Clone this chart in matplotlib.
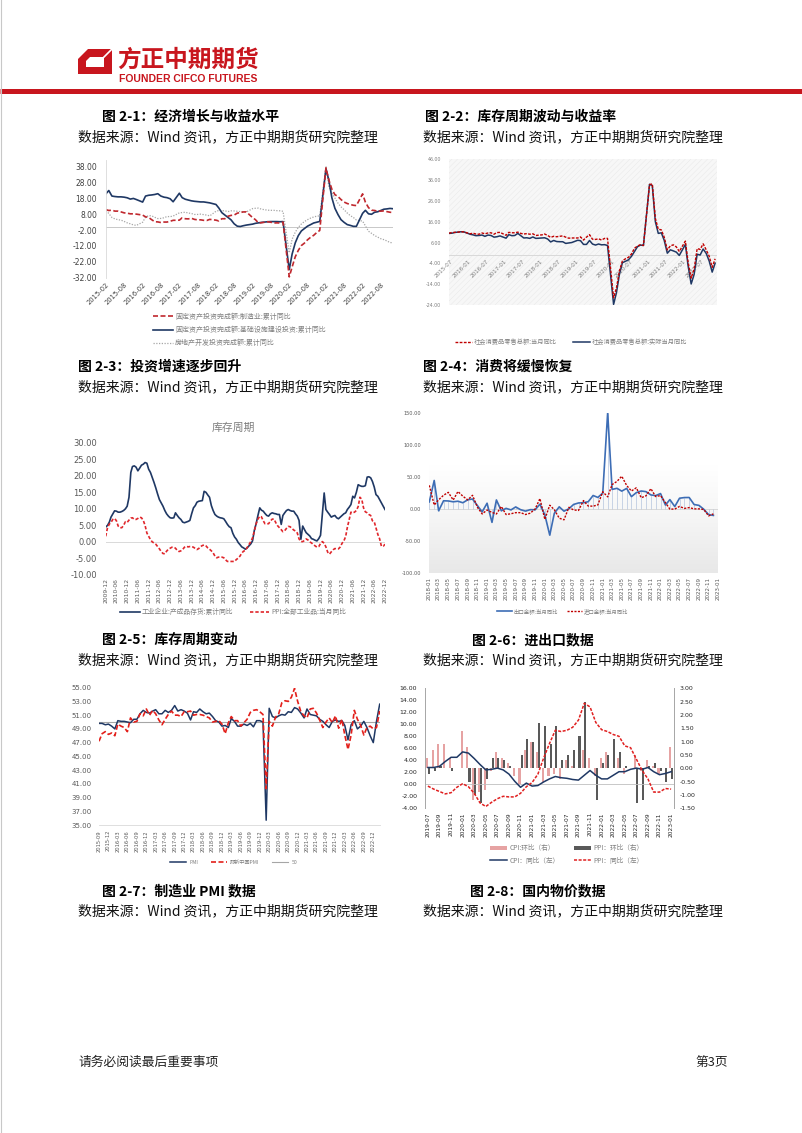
import numpy as np
import pandas as pd
import matplotlib
matplotlib.use("Agg")
import matplotlib.pyplot as plt
from matplotlib.patches import Polygon, Rectangle, Patch
from matplotlib.colors import LinearSegmentedColormap

plt.rcParams['font.family'] = ['DejaVu Sans', 'Noto Sans CJK SC']
plt.rcParams['axes.unicode_minus'] = False
plt.rcParams['hatch.linewidth'] = 0.35

# ---------------- data ----------------
# chart A: fixed asset investment, cumulative yoy (Feb..Dec, 2015-2022)
fai_mfg = [10.9, 10.4, 10.6, 10.0, 10.0, 9.5, 8.9, 8.7, 8.3, 8.3, 8.1,
           7.5, 6.4, 6.0, 4.6, 3.3, 3.2, 2.8, 3.1, 3.1, 3.6, 4.2,
           4.3, 5.8, 5.2, 5.1, 5.5, 4.8, 4.5, 4.5, 4.2, 4.1, 4.8,
           4.3, 3.8, 5.2, 5.2, 6.8, 7.3, 7.5, 8.7, 9.1, 9.5, 9.5,
           5.9, 4.6, 2.5, 2.7, 3.0, 3.3, 3.0, 2.5, 2.6, 2.5, 3.1,
           -31.5, -25.2, -18.8, -14.8, -11.7, -10.2, -8.1, -6.5, -5.3, -3.5, -2.2,
           37.3, 29.8, 23.8, 20.4, 19.2, 17.3, 15.7, 14.8, 14.2, 13.7, 13.5,
           20.9, 15.6, 12.2, 10.6, 10.4, 9.9, 10.0, 10.1, 9.7, 9.3, 9.1]
fai_infra = [21.0, 23.0, 19.5, 19.2, 19.0, 19.0, 18.8, 18.4, 17.6, 18.0, 17.3,
             15.7, 19.5, 20.0, 20.2, 20.5, 21.0, 19.5, 18.8, 18.5, 17.8, 15.9,
             21.3, 18.5, 17.5, 17.0, 16.5, 16.2, 16.0, 15.8, 15.8, 15.5, 15.2,
             14.2, 12.0, 9.0, 7.5, 6.0, 4.5, 2.0, 0.5, 0.3, 0.8, 1.2,
             1.8, 2.3, 2.6, 2.9, 3.1, 3.3, 3.4, 3.4, 3.4, 3.3, 3.4,
             -26.9, -17.0, -10.0, -5.5, -2.5, -1.0, 0.5, 1.5, 2.5, 3.0, 3.5,
             36.6, 29.7, 18.4, 11.8, 7.8, 4.6, 2.9, 1.5, 1.0, 0.4, 0.4,
             8.6, 10.5, 8.3, 8.0, 9.3, 9.6, 10.4, 11.2, 11.4, 11.7, 11.5]
fai_re = [10.4, 8.5, 6.0, 5.1, 4.6, 4.3, 3.5, 2.6, 2.0, 1.3, 1.0,
          3.0, 6.2, 7.2, 7.0, 6.1, 5.3, 5.4, 5.8, 6.6, 6.5, 6.9,
          8.9, 9.1, 9.3, 8.8, 8.5, 7.9, 7.9, 8.1, 7.8, 7.5, 7.0,
          9.9, 10.4, 10.3, 10.2, 9.7, 10.2, 10.1, 9.9, 9.7, 9.7, 9.5,
          11.6, 11.8, 11.9, 11.2, 10.9, 10.6, 10.5, 10.5, 10.3, 10.2, 9.9,
          -16.3, -7.7, -3.3, -0.3, 1.9, 3.4, 4.6, 5.6, 6.3, 6.8, 7.0,
          38.3, 25.6, 21.6, 18.3, 15.0, 12.7, 10.9, 8.8, 7.2, 6.0, 4.4,
          3.7, 0.7, -2.7, -4.0, -5.4, -6.4, -7.4, -8.0, -8.8, -9.8, -10.0]
fai_labels = ['固定资产投资完成额:制造业:累计同比',
              '固定资产投资完成额:基础设施建设投资:累计同比',
              '房地产开发投资完成额:累计同比']

# chart B: retail sales yoy (2015-07..2022-12, no January)
retail_nom = [10.5, 10.8, 10.9, 11.0, 11.2, 11.1,
              10.2, 10.5, 10.1, 10.0, 10.6, 10.2, 10.6, 10.7, 10.0, 10.8, 10.9,
              9.5, 10.9, 10.7, 10.7, 11.0, 10.4, 10.1, 10.3, 10.0, 10.2, 9.4,
              9.7, 10.1, 9.4, 8.5, 9.0, 8.8, 9.0, 9.2, 8.6, 8.1, 8.2,
              8.2, 8.7, 7.2, 8.6, 9.8, 7.6, 7.5, 7.8, 7.2, 8.0, 8.0,
              -20.5, -15.8, -7.5, -2.8, -1.8, -1.1, 0.5, 3.3, 4.3, 5.0, 4.6,
              33.8, 34.2, 17.7, 12.4, 12.1, 8.5, 2.5, 4.4, 4.9, 3.9, 1.7,
              6.7, -3.5, -11.1, -6.7, 3.1, 2.7, 5.4, 2.5, -0.5, -5.9, -1.8]
retail_real = [10.4, 10.5, 10.9, 11.0, 11.2, 11.1,
               10.0, 9.7, 9.3, 9.4, 9.6, 9.0, 9.6, 9.4, 8.6, 8.8, 9.2,
               8.1, 9.8, 9.3, 9.4, 10.4, 9.3, 8.2, 8.3, 8.0, 8.7, 8.0,
               8.2, 8.3, 7.7, 6.3, 7.0, 6.5, 6.4, 6.4, 5.6, 5.8, 6.0,
               7.1, 6.9, 5.1, 5.1, 7.0, 5.3, 4.8, 5.3, 4.9, 5.0, 4.6,
               -23.7, -18.1, -9.1, -3.7, -3.0, -2.3, -0.6, 1.7, 4.0, 4.8, 4.6,
               34.0, 33.4, 16.1, 10.4, 10.7, 7.0, 0.9, 2.5, 2.0, 1.4, -0.2,
               5.1, -5.3, -13.9, -9.3, 0.4, 0.0, 2.9, 0.8, -2.8, -8.2, -3.9]
retail_labels = ['社会消费品零售总额:当月同比', '社会消费品零售总额:实际当月同比']

# chart C: inventory cycle (2009-12..2022-12, monthly)
inventory = [4.5,
             5.0, 6.0, 7.5, 8.5, 9.4, 9.3, 9.0, 9.0, 9.2, 9.5, 10.0, 10.8,
             13.5, 21.0, 22.8, 23.0, 22.6, 21.5, 22.3, 23.2, 23.5, 24.0, 23.8, 22.0,
             21.0, 19.5, 18.0, 16.3, 14.5, 12.8, 11.8, 10.8, 9.5, 8.5, 7.8, 7.3,
             7.2, 7.3, 8.8, 8.0, 7.3, 6.8, 6.0, 5.8, 6.0, 6.2, 6.5, 8.5,
             10.3, 11.0, 12.0, 12.3, 12.4, 12.5, 15.3, 15.0, 14.2, 13.5, 11.0, 9.5,
             8.3, 7.8, 7.5, 7.3, 7.2, 7.0, 6.2, 5.3, 4.6, 4.3, 2.6, 1.5,
             0.8, -0.2, -0.8, -1.5, -1.8, -2.2, -1.8, -1.2, -0.6, 0.3, 3.5, 5.5,
             8.0, 10.3, 9.6, 9.3, 8.6, 8.0, 7.8, 8.5, 8.8, 8.6, 8.5, 8.3,
             8.3, 5.3, 8.0, 8.8, 9.5, 9.8, 9.5, 9.3, 9.3, 8.5, 7.8, 6.5,
             0.8, 4.8, 3.8, 2.8, 2.3, 1.8, 1.0, 0.8, 0.5, 0.3, 1.0, 2.0,
             8.5, 14.8, 9.8, 9.0, 8.3, 7.5, 7.8, 8.0, 7.3, 7.0, 7.5, 8.0,
             8.5, 8.8, 9.8, 10.5, 11.3, 13.8, 13.3, 15.0, 17.3, 17.0, 16.8, 16.8,
             17.0, 19.6, 19.7, 19.4, 18.3, 16.6, 14.3, 13.8, 12.8, 11.8, 10.8, 9.8]
ppi_all = [1.7,
           4.3, 5.4, 5.9, 6.8, 7.1, 6.4, 4.8, 4.3, 4.3, 5.0, 6.1, 5.9,
           6.6, 7.2, 7.3, 6.8, 6.8, 7.1, 7.5, 7.3, 6.5, 5.0, 2.7, 1.7,
           0.7, 0.0, -0.3, -0.7, -1.4, -2.1, -2.9, -3.5, -3.6, -2.8, -2.2, -1.9,
           -1.6, -1.6, -1.9, -2.6, -2.9, -2.7, -2.3, -1.6, -1.3, -1.5, -1.4, -1.4,
           -1.6, -2.0, -2.3, -2.0, -1.4, -1.1, -0.9, -1.2, -1.8, -2.2, -2.7, -3.3,
           -4.3, -4.8, -4.6, -4.6, -4.6, -4.8, -5.4, -5.9, -5.9, -5.9, -5.9, -5.9,
           -5.3, -4.9, -4.3, -3.4, -2.8, -2.6, -1.7, -0.8, 0.1, 1.2, 3.3, 5.5,
           6.9, 7.8, 7.6, 6.4, 5.5, 5.5, 5.5, 6.3, 6.9, 6.9, 5.8, 4.9,
           4.3, 3.7, 3.1, 3.4, 4.1, 4.7, 4.6, 4.1, 3.6, 3.3, 2.7, 0.9,
           0.1, 0.1, 0.4, 0.9, 0.6, 0.0, -0.3, -0.8, -1.2, -1.6, -1.4, -0.5,
           0.1, -0.4, -1.5, -3.1, -3.7, -3.0, -2.4, -2.0, -2.1, -2.1, -1.5, -0.4,
           0.3, 1.7, 4.4, 6.8, 9.0, 8.8, 9.0, 9.5, 10.7, 13.5, 12.9, 10.3,
           9.1, 8.8, 8.3, 8.0, 6.4, 6.1, 4.2, 2.3, 0.9, -1.3, -1.3, -0.7]
inv_labels = ['工业企业:产成品存货:累计同比', 'PPI:全部工业品:当月同比']

# chart D: trade yoy (2018-01..2022-12)
exports = [11.1, 44.5, -2.7, 12.9, 12.6, 11.3, 12.2, 9.8, 14.5, 15.6, 5.4, -4.4,
           9.1, -20.7, 14.2, -2.7, 1.1, -1.3, 3.3, -1.0, -3.2, -0.9, -1.1, 7.6,
           -9.0, -40.6, -6.6, 3.5, -3.3, 0.5, 7.2, 9.5, 9.9, 11.4, 21.1, 18.1,
           24.9, 150.0, 30.6, 32.3, 27.9, 32.2, 19.3, 25.6, 28.1, 27.1, 22.0, 20.9,
           24.1, 6.2, 14.7, 3.9, 16.9, 17.9, 18.0, 7.1, 5.7, -0.3, -8.7, -9.9]
imports = [36.9, 6.3, 14.4, 21.5, 26.0, 14.1, 27.3, 20.0, 14.3, 21.4, 3.0, -7.6,
           -1.5, -5.2, -7.6, 4.0, -8.5, -7.3, -5.6, -5.6, -8.5, -6.4, 0.3, 16.3,
           -16.0, 6.0, -1.0, -14.2, -16.7, 2.7, -1.4, -2.1, 13.2, 4.7, 4.5, 6.5,
           27.0, 19.0, 38.1, 43.1, 51.1, 36.7, 28.1, 33.1, 17.6, 20.6, 31.7, 19.5,
           21.0, 10.0, -0.1, 0.0, 4.1, 1.0, 2.3, 0.3, 0.3, -0.7, -10.6, -7.5]
trade_labels = ['出口金额:当月同比', '进口金额:当月同比']

# chart E: PMI (2015-09..2023-02)
pmi = [49.8, 49.8, 49.6, 49.7,
       49.4, 49.0, 50.2, 50.1, 50.1, 50.0, 49.9, 50.4, 50.4, 51.2, 51.7, 51.4,
       51.3, 51.6, 51.8, 51.2, 51.2, 51.7, 51.4, 51.7, 52.4, 51.6, 51.8, 51.6,
       51.3, 50.3, 51.5, 51.4, 51.9, 51.5, 51.2, 51.3, 50.8, 50.2, 50.0, 49.4,
       49.5, 49.2, 50.5, 50.1, 49.4, 49.4, 49.7, 49.5, 49.8, 49.3, 50.2, 50.2,
       50.0, 35.7, 52.0, 50.8, 50.6, 50.9, 51.1, 51.0, 51.5, 51.4, 52.1, 51.9,
       51.3, 50.6, 51.9, 51.1, 51.0, 50.9, 50.4, 50.1, 49.6, 49.2, 50.1, 50.3,
       50.1, 50.2, 49.5, 47.4, 49.6, 50.2, 49.0, 49.4, 50.1, 49.2, 48.0, 47.0,
       50.1, 52.6]
caixin_pmi = [47.2, 48.3, 48.6, 48.2,
              48.4, 48.0, 49.7, 49.4, 49.2, 48.6, 50.6, 50.0, 50.1, 51.2, 50.9, 51.9,
              51.0, 51.7, 51.2, 50.3, 49.6, 50.4, 51.1, 51.6, 51.0, 51.0, 50.8, 51.5,
              51.5, 51.6, 51.0, 51.1, 51.1, 51.0, 50.8, 50.6, 50.0, 50.1, 50.2, 49.7,
              48.3, 49.9, 50.8, 50.2, 50.2, 49.4, 49.9, 50.4, 51.4, 51.7, 51.8, 51.5,
              51.1, 40.3, 50.1, 49.4, 50.7, 51.2, 52.8, 53.1, 53.0, 53.6, 54.9, 53.0,
              51.5, 50.9, 50.6, 51.9, 52.0, 51.3, 50.3, 49.2, 50.0, 50.6, 49.9, 50.9,
              49.1, 50.4, 48.1, 46.0, 48.1, 51.7, 50.4, 49.5, 48.1, 49.2, 49.4, 49.0,
              49.2, 51.6]
pmi_line = 50
pmi_labels = ['PMI', '财新中国PMI', '50']

# chart F: prices (2019-07..2023-01)
cpi_yoy = [2.8, 2.8, 3.0, 3.8, 4.5, 4.5,
           5.4, 5.2, 4.3, 3.3, 2.4, 2.5, 2.7, 2.4, 1.7, 0.5, -0.5, 0.2,
           -0.3, -0.2, 0.4, 0.9, 1.3, 1.1, 1.0, 0.8, 0.7, 1.5, 2.3, 1.5,
           0.9, 0.9, 1.5, 2.1, 2.1, 2.5, 2.7, 2.5, 2.8, 2.1, 1.6, 1.8,
           2.1]
ppi_yoy = [-0.3, -0.8, -1.2, -1.6, -1.4, -0.5,
           0.1, -0.4, -1.5, -3.1, -3.7, -3.0, -2.4, -2.0, -2.1, -2.1, -1.5, -0.4,
           0.3, 1.7, 4.4, 6.8, 9.0, 8.8, 9.0, 9.5, 10.7, 13.5, 12.9, 10.3,
           9.1, 8.8, 8.3, 8.0, 6.4, 6.1, 4.2, 2.3, 0.9, -1.3, -1.3, -0.7,
           -0.8]
cpi_mom = [0.4, 0.7, 0.9, 0.9, 0.4, 0.0,
           1.4, 0.8, -1.2, -0.9, -0.8, -0.1, 0.6, 0.4, 0.2, -0.3, -0.6, 0.7,
           1.0, 0.6, -0.5, -0.3, -0.2, -0.4, 0.3, 0.1, 0.0, 0.7, 0.4, -0.3,
           0.4, 0.6, 0.0, 0.4, -0.2, 0.0, 0.5, -0.1, 0.3, 0.1, -0.2, 0.0,
           0.8]
ppi_mom = [-0.2, -0.1, 0.1, 0.0, -0.1, 0.0,
           0.0, -0.5, -1.0, -1.3, -0.4, 0.4, 0.4, 0.3, 0.1, 0.0, 0.5, 1.1,
           1.0, 1.7, 1.6, 0.9, 1.6, 0.3, 0.5, 0.7, 1.2, 2.5, 0.0, -1.2,
           0.2, 0.5, 1.1, 0.6, 0.1, 0.0, -1.3, -1.2, 0.1, 0.2, -0.1, -0.5,
           -0.4]
price_labels = ['CPI:环比（右）', 'CPI：同比（左）', 'PPI：环比（右）', 'PPI：同比（左）']

headings = [('图 2-1：经济增长与收益水平', 102, 117), ('图 2-2：库存周期波动与收益率', 425, 117),
            ('图 2-3：投资增速逐步回升', 78, 367), ('图 2-4：消费将缓慢恢复', 423, 367),
            ('图 2-5：库存周期变动', 102, 640), ('图 2-6：进出口数据', 472, 640),
            ('图 2-7：制造业 PMI 数据', 102, 891), ('图 2-8：国内物价数据', 470, 891)]
source = '数据来源：Wind 资讯，方正中期期货研究院整理'

# ---------------- figure ----------------
W, H = 802, 1133
fig = plt.figure(figsize=(W / 100, H / 100), dpi=100)
CJK = ['Noto Sans CJK SC', 'DejaVu Sans']
GREY = '#595959'
RED = '#C8161E'


def box(x0, y0, x1, y1):
    return fig.add_axes([x0 / W, 1 - y1 / H, (x1 - x0) / W, (y1 - y0) / H])


def ftext(x, y, s, **kw):
    kw.setdefault('va', 'center')
    kw.setdefault('ha', 'left')
    fig.text(x / W, 1 - y / H, s, **kw)


def style(ax, ysize, xsize, ypad, xpad, color=GREY):
    ax.tick_params(axis='y', length=0, labelsize=ysize, pad=ypad, labelcolor=color)
    ax.tick_params(axis='x', length=0, labelsize=xsize, pad=xpad, labelcolor=color)
    for s in ax.spines.values():
        s.set_visible(False)


def legend_at(ax, handles, labels, x, y, fs, ncol=1, **kw):
    kw.setdefault('handletextpad', 0.3)
    leg = ax.legend(handles, labels, loc='center left', bbox_to_anchor=(x / W, 1 - y / H),
                    bbox_transform=fig.transFigure, frameon=False, ncol=ncol,
                    borderpad=0, borderaxespad=0, prop={'family': CJK, 'size': fs}, **kw)
    for t in leg.get_texts():
        t.set_color('#7F7F7F')
    return leg


# page header
ax_page = fig.add_axes([0, 0, 1, 1])
ax_page.set_xlim(0, W)
ax_page.set_ylim(H, 0)
ax_page.axis('off')
ax_page.add_patch(Polygon([(88, 49), (112, 49), (112, 74), (78, 74), (78, 59)],
                          closed=True, facecolor=RED, edgecolor='none'))
ax_page.add_patch(Polygon([(90, 57), (104, 57), (104, 67), (86, 67), (86, 61)],
                          closed=True, facecolor='white', edgecolor='none'))
ax_page.plot([104, 112], [57, 49], color='white', lw=1.2)
ax_page.plot([0, W], [90.5, 90.5], color=RED, lw=3.6, solid_capstyle='butt')
ax_page.plot([0.6, 0.6], [0, H], color='#C8C8C8', lw=0.8)
ftext(117, 60, '方正中期期货', fontsize=17, fontweight='bold', color=RED, family=CJK)
ftext(119, 79, 'FOUNDER CIFCO FUTURES', fontsize=7.5, fontweight='bold', color=RED,
      family=['Liberation Sans', 'DejaVu Sans'])

for txt, hx, hy in headings:
    ftext(hx, hy, txt, fontsize=10, fontweight='bold', family=CJK, color='black')
for sx, sy in [(78, 137), (423, 137), (78, 387), (423, 387), (78, 660), (423, 660),
               (78, 911), (423, 911)]:
    ftext(sx, sy, source, fontsize=10, family=CJK, color='#111111')
ftext(78, 1062, '请务必阅读最后重要事项', fontsize=9.2, family=CJK, color='#222222')
ftext(695, 1062, '第3页', fontsize=9.2, family=CJK, color='#222222')

# ---- chart A ----
d1 = [d for d in pd.date_range('2015-02-01', '2022-12-01', freq='MS') if d.month != 1]
ax1 = box(106, 160.4, 393, 277.7)
l_re, = ax1.plot(d1, fai_re, color='#A6A6A6', lw=0.9, ls=(0, (1, 1.2)))
l_in, = ax1.plot(d1, fai_infra, color='#1F3864', lw=1.2)
l_mf, = ax1.plot(d1, fai_mfg, color='#C0282E', lw=1.2, ls=(0, (3, 1.5)))
ax1.axhline(0, color='#BFBFBF', lw=0.6, zorder=0)
ax1.set_xlim(d1[0], d1[-1])
ax1.set_ylim(-32, 42)
ax1.set_yticks(np.arange(-32, 39, 10))
ax1.yaxis.set_major_formatter('{x:.2f}')
t1 = pd.date_range('2015-02-01', '2022-08-01', freq='6MS')
ax1.set_xticks(t1, [d.strftime('%Y-%m') for d in t1], rotation=45, ha='right',
               rotation_mode='anchor')
style(ax1, 5.5, 4.9, 6.3, 3, color='#404040')
ax1.spines['left'].set_visible(True)
ax1.spines['left'].set_color('#D9D9D9')
ax1.spines['left'].set_linewidth(0.6)
legend_at(ax1, [l_mf, l_in, l_re], fai_labels, 153, 330, 5, labelspacing=0.75,
          handlelength=2.9)

# ---- chart B ----
d2 = [d for d in pd.date_range('2015-07-01', '2022-12-01', freq='MS') if d.month != 1]
ax2 = box(449, 159.3, 717, 305)
ax2.set_facecolor('#F7F7F7')
ax2.add_patch(Rectangle((0, 0), 1, 1, transform=ax2.transAxes, facecolor='none',
                        edgecolor='#E8E8E8', hatch='//////', lw=0, zorder=0))
ax2.axhline(0, color='#D9D9D9', lw=0.7, zorder=1)
t2 = pd.date_range('2015-07-01', '2022-07-01', freq='6MS')
for d in t2:
    ax2.annotate(d.strftime('%Y-%m'), (d, 0), xytext=(1, -2.5), textcoords='offset points',
                 rotation=45, ha='right', va='top', rotation_mode='anchor', fontsize=4.1,
                 color='#7F7F7F', zorder=2)
l_rn, = ax2.plot(d2, retail_nom, color='#C00000', lw=1.0, ls=(0, (2, 1)), zorder=4)
l_rr, = ax2.plot(d2, retail_real, color='#1F3864', lw=1.1, zorder=3)
ax2.set_xlim(pd.Timestamp('2015-07-01'), pd.Timestamp('2022-12-20'))
ax2.set_ylim(-24, 46)
ax2.set_yticks(np.arange(-24, 47, 10))
ax2.yaxis.set_major_formatter('{x:.2f}')
ax2.set_xticks([])
style(ax2, 3.4, 4, 5.8, 2, color='#7F7F7F')
legend_at(ax2, [l_rn, l_rr], retail_labels, 455, 342, 4.5, ncol=2, handlelength=2.7,
          columnspacing=2.6)

# ---- chart C ----
d3 = pd.date_range('2009-12-01', '2022-12-01', freq='MS')
ax3 = box(105.7, 442.7, 385, 575)
ax3.axhline(0, color='#D9D9D9', lw=0.7, zorder=0)
l_inv, = ax3.plot(d3, inventory, color='#1F3864', lw=1.2)
l_ppi, = ax3.plot(d3, ppi_all, color='#E0262B', lw=1.2, ls=(0, (2, 1.2)))
ax3.set_xlim(d3[0], d3[-1])
ax3.set_ylim(-10, 30)
ax3.set_yticks(np.arange(-10, 31, 5))
ax3.yaxis.set_major_formatter('{x:.2f}')
t3 = d3[::6]
ax3.set_xticks(t3, [d.strftime('%Y-%m') for d in t3], rotation=90)
style(ax3, 6, 4.3, 6.3, 2.2)
ftext(233, 428, '库存周期', ha='center', fontsize=7.8, family=CJK, color='#7F7F7F')
legend_at(ax3, [l_inv, l_ppi], inv_labels, 120, 612, 4.9, ncol=2, handlelength=2.9,
          columnspacing=2.4)

# ---- chart D ----
d4 = pd.date_range('2018-01-01', '2022-12-01', freq='MS')
ax4 = box(429.3, 412.7, 718.3, 573.3)
grad_cmap = LinearSegmentedColormap.from_list('g', ['#E8E8E8', '#F5F5F5', '#FFFFFF', '#FFFFFF'])
ax4.imshow(np.linspace(0, 1, 256).reshape(-1, 1), extent=(0, 1, 0, 1), transform=ax4.transAxes,
           aspect='auto', cmap=grad_cmap, origin='lower', zorder=0)
ax4.axhline(0, color='#D9D9D9', lw=0.7, zorder=1)
ax4.vlines(d4, 0, exports, color='#B4C4DE', lw=0.5, zorder=2)
l_ex, = ax4.plot(d4, exports, color='#3D6DB5', lw=1.2, zorder=3)
l_im, = ax4.plot(d4, imports, color='#C00000', lw=1.0, ls=(0, (1.5, 1)), zorder=4)
ax4.set_xlim(pd.Timestamp('2018-01-01'), pd.Timestamp('2023-01-01'))
ax4.set_ylim(-100, 150)
ax4.set_yticks(np.arange(-100, 151, 50))
ax4.yaxis.set_major_formatter('{x:.2f}')
t4 = pd.date_range('2018-01-01', '2023-01-01', freq='2MS')
ax4.set_xticks(t4, [d.strftime('%Y-%m') for d in t4], rotation=90)
style(ax4, 3.6, 4, 6, 2.7)
legend_at(ax4, [l_ex, l_im], trade_labels, 497, 611, 3.9, ncol=2, handlelength=2.8,
          columnspacing=1.6)

# ---- chart E ----
d5 = pd.date_range('2015-09-01', '2023-02-01', freq='MS')
ax5 = box(99, 687.7, 379.7, 825)
l_50, = ax5.plot(d5, [pmi_line] * len(d5), color='#A6A6A6', lw=0.8)
l_pmi, = ax5.plot(d5, pmi, color='#1F3864', lw=1.1)
l_cx, = ax5.plot(d5, caixin_pmi, color='#E3201B', lw=1.2, ls=(0, (3, 1.5)))
ax5.set_xlim(d5[0], d5[-1])
ax5.set_ylim(35, 55)
ax5.set_yticks(np.arange(35, 56, 2))
ax5.yaxis.set_major_formatter('{x:.2f}')
t5 = pd.date_range('2015-09-01', '2022-12-01', freq='3MS')
ax5.set_xticks(t5, [d.strftime('%Y-%m') for d in t5], rotation=90)
style(ax5, 5, 3.7, 5.3, 3.6)
ax5.spines['bottom'].set_visible(True)
ax5.spines['bottom'].set_color('#D9D9D9')
ax5.spines['bottom'].set_linewidth(0.6)
legend_at(ax5, [l_pmi, l_cx, l_50], pmi_labels, 170, 862, 3.7, ncol=3, handlelength=3.2,
          columnspacing=2.4, handletextpad=0.6)

# ---- chart F ----
idx = np.arange(len(cpi_yoy))
month_lbl = [d.strftime('%Y-%m') for d in pd.date_range('2019-07-01', '2023-01-01', freq='MS')]
ax6 = box(425, 688.3, 674, 808.3)
ax6r = ax6.twinx()
ax6r.bar(idx - 0.18, cpi_mom, width=0.36, color='#E6A3A3')
ax6r.bar(idx + 0.18, ppi_mom, width=0.36, color='#595959')
ax6.set_zorder(ax6r.get_zorder() + 1)
ax6.patch.set_visible(False)
ax6.axhline(0, color='#BFBFBF', lw=0.6, zorder=1)
l_cy, = ax6.plot(idx, cpi_yoy, color='#1F3864', lw=1.1, zorder=3)
l_py, = ax6.plot(idx, ppi_yoy, color='#E02020', lw=1.1, ls=(0, (2, 1)), zorder=4)
ax6.set_xlim(-0.5, len(idx) - 0.5)
ax6.set_ylim(-4, 16)
ax6.set_yticks(np.arange(-4, 17, 2))
ax6.yaxis.set_major_formatter('{x:.2f}')
ax6r.set_ylim(-1.5, 3.0)
ax6r.set_yticks(np.arange(-1.5, 3.01, 0.5))
ax6r.yaxis.set_major_formatter('{x:.2f}')
ax6.set_xticks(idx[::2], month_lbl[::2], rotation=90)
style(ax6, 4.5, 4.2, 5.6, 2.8, color='#262626')
style(ax6r, 4.5, 4.2, 4.3, 2.8, color='#262626')
for a, side in [(ax6, 'left'), (ax6r, 'right')]:
    a.spines[side].set_visible(True)
    a.spines[side].set_color('#A6A6A6')
    a.spines[side].set_linewidth(0.7)
legend_at(ax6, [Patch(facecolor='#E6A3A3'), l_cy, Patch(facecolor='#595959'), l_py],
          price_labels, 490, 854.5, 4.8, ncol=2, handlelength=2.6, columnspacing=2.2,
          labelspacing=0.7)

fig.savefig('out.png', dpi=100)
